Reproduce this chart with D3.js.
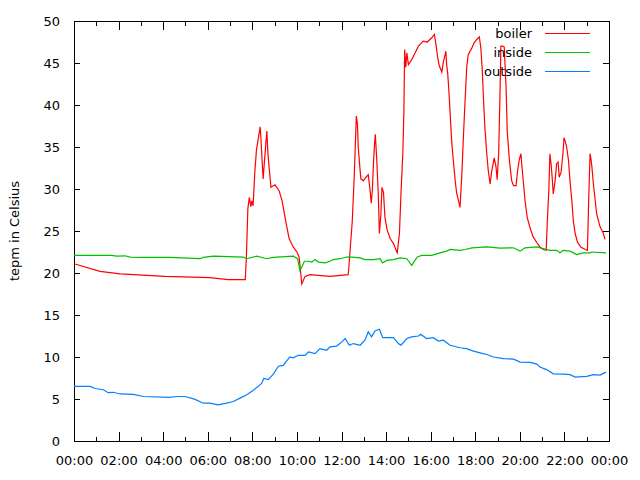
<!DOCTYPE html>
<html>
<head>
<meta charset="utf-8">
<script src="https://cdn.jsdelivr.net/npm/d3@7"></script>
<style>
  body { margin: 0; background: #fff; }
  svg text { font-family: "DejaVu Sans", sans-serif; font-size: 13px; fill: #000; }
</style>
</head>
<body>
<div id="chart"></div>
<script>
// readings taken off the day plot, "HH:MM" -> degrees C
const boiler = [
  ["00:00",21.1],["01:10",20.2],["02:04",19.9],["04:05",19.6],["06:06",19.45],["06:55",19.2],
  ["07:41",19.2],["07:44",21.9],["07:48",27.7],["07:52",29.0],["07:56",27.9],["07:59",28.6],
  ["08:02",28.0],["08:07",32.2],["08:11",34.6],["08:21",37.4],["08:23",36.1],["08:29",31.2],
  ["08:39",36.9],["08:42",34.2],["08:50",30.2],["09:01",30.5],["09:12",29.8],["09:20",28.6],
  ["09:31",25.9],["09:39",24.1],["09:50",23.1],["10:00",22.5],["10:06",21.9],["10:13",18.7],
  ["10:22",19.6],["10:35",19.8],["11:29",19.6],["12:18",19.8],["12:20",20.8],["12:29",26.2],
  ["12:34",31.2],["12:38",36.3],["12:40",38.7],["12:43",37.7],["12:45",35.0],["12:52",31.2],
  ["12:59",31.0],["13:06",31.4],["13:12",31.7],["13:17",29.8],["13:20",28.3],["13:23",29.8],
  ["13:26",33.0],["13:29",35.4],["13:31",36.5],["13:35",33.4],["13:39",29.4],["13:42",24.7],
  ["13:46",27.0],["13:49",30.2],["13:53",29.6],["13:57",26.6],["14:03",25.1],["14:11",24.1],
  ["14:20",23.5],["14:29",22.5],["14:30",22.4],["14:36",24.7],["14:40",29.4],["14:45",34.2],
  ["14:48",39.3],["14:50",46.6],["14:53",44.5],["14:56",46.2],["15:00",44.8],["15:09",45.4],
  ["15:18",46.2],["15:27",47.0],["15:40",47.6],["15:51",47.5],["16:03",48.0],["16:10",48.4],
  ["16:15",47.0],["16:19",45.6],["16:23",44.7],["16:30",43.9],["16:34",45.1],["16:39",46.0],
  ["16:41",46.4],["16:43",44.8],["16:46",43.7],["16:49",41.7],["16:52",39.3],["16:57",35.4],
  ["17:01",33.4],["17:06",31.0],["17:10",29.5],["17:16",28.4],["17:19",27.8],["17:24",31.8],
  ["17:28",36.1],["17:33",40.9],["17:37",44.5],["17:41",46.0],["17:51",46.8],["17:57",47.4],
  ["18:04",47.8],["18:11",48.1],["18:15",46.8],["18:19",44.1],["18:22",40.9],["18:26",37.3],
  ["18:31",34.2],["18:35",32.2],["18:40",30.6],["18:44",32.0],["18:51",33.7],["18:56",32.6],
  ["18:59",31.1],["19:03",34.2],["19:07",42.1],["19:09",47.0],["19:14",47.0],["19:18",46.9],
  ["19:23",42.1],["19:26",36.9],["19:32",33.4],["19:38",31.0],["19:43",30.4],["19:50",30.4],
  ["19:54",32.2],["19:59",33.6],["20:03",34.2],["20:05",33.0],["20:10",30.6],["20:14",28.6],
  ["20:20",26.6],["20:28",25.3],["20:36",24.3],["20:46",23.6],["20:54",23.1],["21:03",22.8],
  ["21:11",22.7],["21:14",26.2],["21:18",29.8],["21:21",34.2],["21:24",33.0],["21:27",31.4],
  ["21:30",29.4],["21:35",31.0],["21:39",33.0],["21:43",33.2],["21:46",31.4],["21:51",32.0],
  ["21:56",34.2],["21:59",36.1],["22:02",35.7],["22:06",35.0],["22:11",33.4],["22:15",31.0],
  ["22:20",28.6],["22:24",26.2],["22:29",24.7],["22:35",23.7],["22:44",23.1],["22:56",22.8],
  ["23:02",22.7],["23:05",28.2],["23:09",34.2],["23:12",33.4],["23:14",32.6],["23:18",30.6],
  ["23:23",28.6],["23:27",27.0],["23:36",25.5],["23:45",24.7],["23:49",24.0]
];

const inside = [
  ["00:00",22.1],["01:41",22.1],["01:55",22.0],["02:17",22.05],["02:31",21.9],["03:07",21.85],
  ["04:18",21.85],["05:39",21.7],["05:48",21.85],["06:15",22.0],["07:36",21.9],["07:45",21.7],
  ["08:12",22.0],["08:39",21.7],["08:56",21.85],["09:50",22.0],["10:02",21.7],["10:08",20.3],
  ["10:13",20.7],["10:20",21.4],["10:31",21.4],["10:40",21.3],["10:49",21.6],["10:58",21.3],
  ["11:16",21.2],["11:29",21.4],["11:38",21.6],["11:56",21.7],["12:14",21.9],["12:28",21.9],
  ["12:50",21.8],["13:03",21.6],["13:26",21.6],["13:44",21.7],["13:50",21.2],["14:02",21.5],
  ["14:20",21.6],["14:38",21.8],["14:56",21.7],["15:09",20.9],["15:24",21.9],["15:36",22.1],
  ["16:03",22.1],["16:25",22.4],["16:43",22.6],["16:52",22.8],["17:19",22.7],["17:33",22.8],
  ["17:51",23.0],["18:31",23.1],["19:07",22.95],["19:43",23.0],["19:52",22.8],["20:01",22.6],
  ["20:14",23.0],["20:46",23.1],["21:03",22.9],["21:21",22.7],["21:39",22.7],["21:48",22.4],
  ["21:57",22.7],["22:15",22.6],["22:33",22.2],["22:51",22.4],["23:09",22.4],["23:14",22.5],
  ["23:52",22.4]
];

const outside = [
  ["00:00",6.5],["00:43",6.5],["00:57",6.25],["01:19",6.1],["01:32",5.75],["01:46",5.8],
  ["02:04",5.6],["02:40",5.55],["03:07",5.3],["04:18",5.2],["04:36",5.3],["04:59",5.3],
  ["05:26",4.95],["05:48",4.5],["06:06",4.5],["06:28",4.3],["06:51",4.5],["07:09",4.7],
  ["07:27",5.1],["07:45",5.5],["08:03",6.05],["08:25",6.85],["08:31",7.45],["08:43",7.3],
  ["08:57",8.0],["09:10",8.9],["09:23",9.0],["09:41",10.0],["09:50",9.9],["10:04",10.2],
  ["10:22",10.2],["10:31",10.6],["10:49",10.4],["11:02",11.0],["11:20",10.8],["11:29",11.2],
  ["11:47",11.3],["12:01",11.8],["12:10",12.2],["12:21",11.4],["12:32",11.6],["12:50",11.4],
  ["13:03",12.0],["13:12",13.0],["13:21",12.4],["13:30",13.1],["13:42",13.3],["13:51",12.3],
  ["14:20",12.3],["14:33",11.6],["14:40",11.4],["14:56",12.2],["15:09",12.4],["15:27",12.5],
  ["15:33",12.7],["15:49",12.2],["16:07",12.3],["16:21",11.9],["16:34",12.0],["16:52",11.4],
  ["17:19",11.1],["17:37",11.0],["17:55",10.7],["18:13",10.5],["18:31",10.3],["18:49",10.0],
  ["19:16",9.8],["19:43",9.75],["20:01",9.4],["20:28",9.35],["20:46",9.15],["20:54",8.8],
  ["21:12",8.5],["21:30",8.0],["21:57",7.95],["22:15",7.9],["22:29",7.6],["23:00",7.7],
  ["23:18",7.9],["23:36",7.85],["23:52",8.2]
];

const seriesNames = ["boiler", "inside", "outside"];
const seriesColors = ["#ff0000", "#00c000", "#0080ff"];
const yTicks = [0, 5, 10, 15, 20, 25, 30, 35, 40, 45, 50];
const yLabel = "tepm in Celsius";

const width = 640, height = 480;
const margin = {left: 74, right: 31, top: 21, bottom: 39};

const parseTime = d3.timeParse("%H:%M");
const dayStart = parseTime("00:00");
const dayEnd = d3.timeDay.offset(dayStart, 1);

const svg = d3.select("#chart").append("svg")
    .attr("width", width)
    .attr("height", height);

const scaleX = d3.scaleTime()
    .domain([dayStart, dayEnd])
    .range([margin.left, width - margin.right]);
const scaleY = d3.scaleLinear()
    .domain([0, 50])
    .range([height - margin.bottom, margin.top]);

const majorX = d3.timeHour.every(2).range(dayStart, d3.timeMinute.offset(dayEnd, 1));
const minorX = d3.timeHour.every(1).range(dayStart, d3.timeMinute.offset(dayEnd, 1))
    .filter(t => t.getHours() % 2 === 1);

// axes: bottom with labels, top/right mirrored without labels
function styleAxis(g) {
  g.select(".domain").remove();
  g.selectAll("line").attr("stroke", "#000").attr("shape-rendering", "crispEdges");
}

svg.append("g")
    .attr("transform", "translate(0," + (height - margin.bottom) + ")")
    .call(d3.axisBottom(scaleX).tickValues(majorX).tickFormat(d3.timeFormat("%H:%M"))
      .tickSize(-9).tickPadding(15))
    .call(styleAxis);
svg.append("g")
    .attr("transform", "translate(0," + (height - margin.bottom) + ")")
    .call(d3.axisBottom(scaleX).tickValues(minorX).tickFormat("").tickSize(-4.5))
    .call(styleAxis);
svg.append("g")
    .attr("transform", "translate(0," + margin.top + ")")
    .call(d3.axisTop(scaleX).tickValues(majorX).tickFormat("").tickSize(-9))
    .call(styleAxis);
svg.append("g")
    .attr("transform", "translate(0," + margin.top + ")")
    .call(d3.axisTop(scaleX).tickValues(minorX).tickFormat("").tickSize(-4.5))
    .call(styleAxis);

svg.append("g")
    .attr("transform", "translate(" + margin.left + ",0)")
    .call(d3.axisLeft(scaleY).tickValues(yTicks).tickSize(-6).tickPadding(14))
    .call(styleAxis);
svg.append("g")
    .attr("transform", "translate(" + (width - margin.right) + ",0)")
    .call(d3.axisRight(scaleY).tickValues(yTicks).tickFormat("").tickSize(-6))
    .call(styleAxis);

svg.selectAll(".tick text")
    .style("font-family", "'DejaVu Sans', sans-serif")
    .style("font-size", "13px")
    .attr("fill", "#000");

// frame
svg.append("rect")
    .attr("x", margin.left + 0.5)
    .attr("y", margin.top + 0.5)
    .attr("width", width - margin.left - margin.right)
    .attr("height", height - margin.top - margin.bottom)
    .attr("fill", "none")
    .attr("stroke", "#000")
    .attr("shape-rendering", "crispEdges");

// y label
svg.append("text")
    .attr("transform", "translate(19," + ((margin.top + height - margin.bottom) / 2) + ") rotate(-90)")
    .style("text-anchor", "middle")
    .text(yLabel);

// lines
const line = d3.line()
    .x(d => scaleX(parseTime(d[0])))
    .y(d => scaleY(d[1]));

const allSeries = [boiler, inside, outside];
allSeries.forEach((s, i) => {
  svg.append("path")
      .datum(s)
      .attr("d", line)
      .attr("fill", "none")
      .attr("stroke", seriesColors[i])
      .attr("stroke-width", 1.2);
});

// legend, top right inside the frame
const legend = svg.append("g");
seriesNames.forEach((name, i) => {
  const y = 33 + i * 19;
  legend.append("text")
      .attr("x", 532)
      .attr("y", y)
      .attr("dy", "0.35em")
      .style("text-anchor", "end")
      .text(name);
  legend.append("line")
      .attr("x1", 545).attr("x2", 590)
      .attr("y1", y + 0.5).attr("y2", y + 0.5)
      .attr("stroke", seriesColors[i])
      .attr("stroke-width", 1.2);
});
</script>
</body>
</html>
